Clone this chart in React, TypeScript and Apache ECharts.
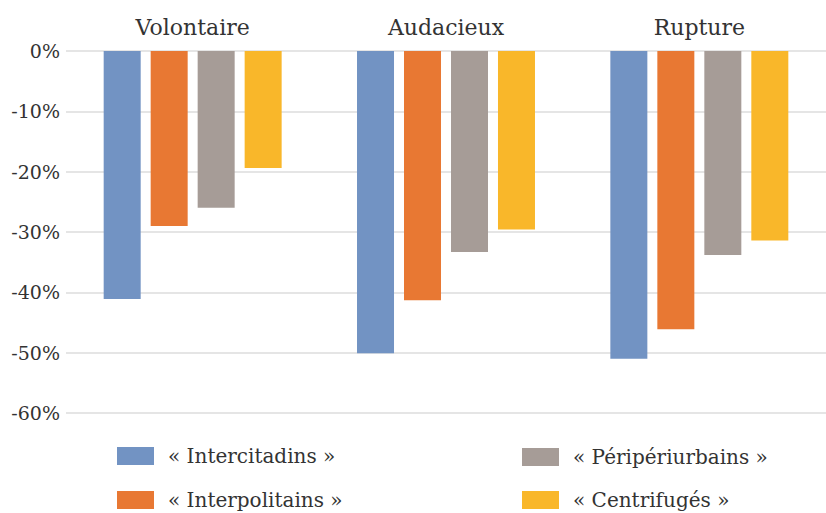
import React, { useEffect, useRef } from "react";
import * as echarts from "echarts";

const categories = ["Volontaire", "Audacieux", "Rupture"];
const seriesNames = ["« Intercitadins »", "« Interpolitains »", "« Péripériurbains »", "« Centrifugés »"];
const intercitadins = [-41.1, -50.1, -51.0];
const interpolitains = [-29.0, -41.3, -46.1];
const periurbains = [-26.0, -33.3, -33.8];
const centrifuges = [-19.4, -29.6, -31.4];
const colors = ["#7293C3", "#E87833", "#A69C97", "#F9B72A"];

const FONT = "DejaVu Serif";

export default function App() {
  const ref = useRef<HTMLDivElement>(null);
  useEffect(() => {
    document.body.style.margin = "0";
    const chart = echarts.init(ref.current!, null, { renderer: "svg" });
    const data = [intercitadins, interpolitains, periurbains, centrifuges];
    const legendPos = [
      [117, 446],
      [117, 490],
      [522, 447],
      [522, 490],
    ];
    chart.setOption({
      animation: false,
      backgroundColor: "#ffffff",
      textStyle: { fontFamily: FONT },
      grid: { left: 66, top: 51, width: 771, height: 362 },
      xAxis: {
        type: "category",
        position: "top",
        data: categories,
        axisLine: { show: false },
        axisTick: { show: false },
        axisLabel: { fontFamily: FONT, fontSize: 22, color: "#333333", margin: 13 },
      },
      yAxis: {
        type: "value",
        min: -60,
        max: 0,
        interval: 10,
        axisLine: { show: false },
        axisTick: { show: false },
        splitLine: { lineStyle: { color: "#dcdcdc", width: 1.5 } },
        axisLabel: {
          fontFamily: FONT,
          fontSize: 19,
          color: "#333333",
          margin: 6,
          formatter: (v: number) => `${v}%`,
        },
      },
      legend: seriesNames.map((name, i) => ({
        data: [name],
        left: legendPos[i][0],
        top: legendPos[i][1],
        padding: 0,
        itemWidth: 37,
        itemHeight: 18,
        icon: "rect",
        textStyle: {
          fontFamily: FONT,
          fontSize: 20,
          lineHeight: 18,
          color: "#333333",
          padding: [0, 0, 0, 9],
        },
      })),
      series: seriesNames.map((name, i) => ({
        name,
        type: "bar",
        data: data[i],
        barWidth: 37,
        barGap: "27%",
        itemStyle: { color: colors[i] },
      })),
    });
    return () => chart.dispose();
  }, []);
  return <div ref={ref} style={{ width: 826, height: 513 }} />;
}
